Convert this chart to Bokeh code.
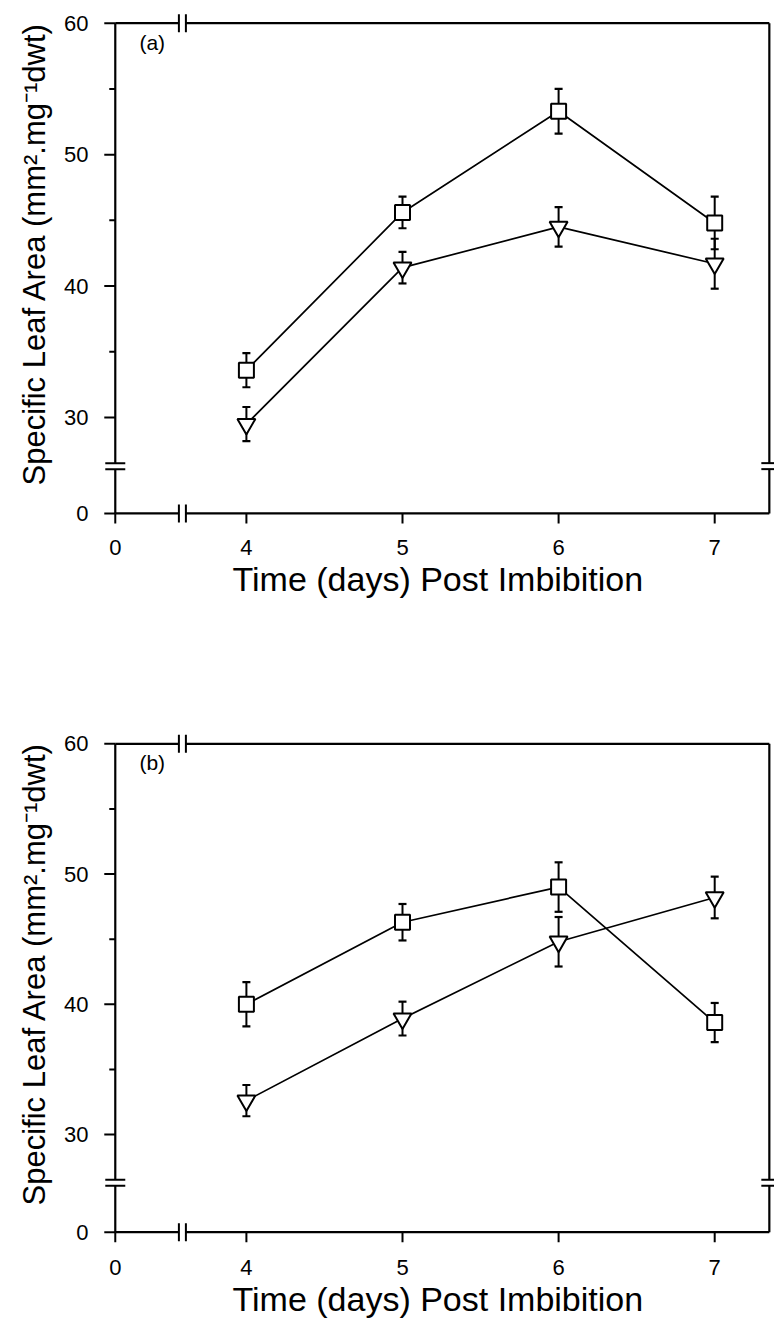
from bokeh.plotting import figure
from bokeh.layouts import column
from bokeh.models import FixedTicker, Label, Title
from bokeh.embed import file_html
from bokeh.resources import INLINE

# ---------------- data ----------------
days = [4, 5, 6, 7]

a_square = [33.6, 45.6, 53.3, 44.8]
a_square_err = [1.3, 1.2, 1.7, 2.0]
a_tri = [29.5, 41.4, 44.5, 41.7]
a_tri_err = [1.3, 1.2, 1.5, 1.9]

b_square = [40.0, 46.3, 49.0, 38.6]
b_square_err = [1.7, 1.4, 1.9, 1.5]
b_tri = [32.6, 38.9, 44.8, 48.2]
b_tri_err = [1.2, 1.3, 1.9, 1.6]

x_major = [4, 5, 6, 7]
y_major = [30, 40, 50, 60]
y_minor = [35, 45, 55]
panel_tags = ["(a)", "(b)"]
x_title = "Time (days) Post Imbibition"
y_title = "Specific Leaf Area (mm\u00b2.mg\u207b\u00b9dwt)"

# ---------------- broken-axis design ----------------
X_ZERO = 3.16     # where the "0" of the time axis sits
X_BREAK = 3.59
X_RIGHT = 7.35
Y_TOP = 60
Y_BREAK = 26.3

FONT = "Liberation Sans"
INK = "black"


def build(sq, sq_err, tr, tr_err, tag, fig_h, y60_px, y30_px, y_zero):
    frame_l, frame_r, frame_t, frame_b = 95, 774, 8, 535
    x4_px, px_day = 245.9, 156.1
    ppu = (y30_px - y60_px) / 30.0

    def xd(px):
        return 4 + (px - x4_px) / px_day

    def yd(px):
        return 30 - (px - y30_px) / ppu

    def sx(px):
        return px / px_day

    def sy(px):
        return px / ppu

    p = figure(width=774, height=fig_h,
               x_range=(xd(frame_l), xd(frame_r)),
               y_range=(yd(frame_b), yd(frame_t)),
               min_border_left=frame_l, min_border_right=0,
               min_border_top=frame_t, min_border_bottom=fig_h - frame_b,
               output_backend="svg", toolbar_location=None)
    p.grid.visible = False
    p.outline_line_color = None
    p.background_fill_color = "white"
    p.border_fill_color = "white"

    # axes: tick labels only, the frame and ticks are drawn below
    p.xaxis.ticker = FixedTicker(ticks=[X_ZERO] + x_major, minor_ticks=[])
    p.xaxis.major_label_overrides = {X_ZERO: "0"}
    p.yaxis.ticker = FixedTicker(ticks=[y_zero] + y_major, minor_ticks=[])
    p.yaxis.major_label_overrides = {y_zero: "0"}
    for ax in (p.xaxis, p.yaxis):
        ax.axis_line_color = None
        ax.major_tick_line_color = None
        ax.minor_tick_line_color = None
        ax.major_tick_out = 0
        ax.major_tick_in = 0
        ax.major_label_text_font = FONT
        ax.major_label_text_font_size = "22px"
        ax.major_label_text_color = INK
    p.xaxis.major_label_standoff = 4
    p.yaxis.major_label_standoff = 7

    hx = sx(7) / 2
    hy = sy(6) / 2
    # frame with gaps at the breaks
    fx0 = [X_ZERO, X_BREAK + hx, X_ZERO, X_BREAK + hx,
           X_ZERO, X_ZERO, X_RIGHT, X_RIGHT]
    fx1 = [X_BREAK - hx, X_RIGHT, X_BREAK - hx, X_RIGHT,
           X_ZERO, X_ZERO, X_RIGHT, X_RIGHT]
    fy0 = [y_zero, y_zero, Y_TOP, Y_TOP,
           y_zero, Y_BREAK + hy, y_zero, Y_BREAK + hy]
    fy1 = [y_zero, y_zero, Y_TOP, Y_TOP,
           Y_BREAK - hy, Y_TOP, Y_BREAK - hy, Y_TOP]
    p.segment(fx0, fy0, fx1, fy1, line_color=INK, line_width=2.2)

    # break marks
    bx0, bx1, by0, by1 = [], [], [], []
    for yy in (y_zero, Y_TOP):
        for xx in (X_BREAK - hx, X_BREAK + hx):
            bx0.append(xx); bx1.append(xx)
            by0.append(yy - sy(9)); by1.append(yy + sy(9))
    for xx, half in ((X_ZERO, 10), (X_RIGHT, 8)):
        for yy in (Y_BREAK - hy, Y_BREAK + hy):
            bx0.append(xx - sx(half)); bx1.append(xx + sx(half))
            by0.append(yy); by1.append(yy)
    p.segment(bx0, by0, bx1, by1, line_color=INK, line_width=2)

    # ticks
    yt = [y_zero] + y_major
    p.segment([X_ZERO - sx(11)] * len(yt), yt, [X_ZERO] * len(yt), yt,
              line_color=INK, line_width=2)
    p.segment([X_ZERO - sx(6)] * len(y_minor), y_minor, [X_ZERO] * len(y_minor), y_minor,
              line_color=INK, line_width=2)
    xt = [X_ZERO] + x_major
    p.segment(xt, [y_zero - sy(10)] * len(xt), xt, [y_zero] * len(xt),
              line_color=INK, line_width=2)

    # series
    cap = sx(4)
    for vals, errs in ((sq, sq_err), (tr, tr_err)):
        p.line(days, vals, line_color=INK, line_width=1.7)
        lo = [v - e for v, e in zip(vals, errs)]
        hi = [v + e for v, e in zip(vals, errs)]
        p.segment(days, lo, days, hi, line_color=INK, line_width=2)
        p.segment([d - cap for d in days], lo, [d + cap for d in days], lo,
                  line_color=INK, line_width=2.2)
        p.segment([d - cap for d in days], hi, [d + cap for d in days], hi,
                  line_color=INK, line_width=2.2)
    p.scatter(days, sq, marker="square", size=15, fill_color="white",
              line_color=INK, line_width=2)
    p.scatter(days, tr, marker="inverted_triangle", size=18, fill_color="white",
              line_color=INK, line_width=2)

    p.add_layout(Label(x=X_ZERO, y=Y_TOP, x_offset=37, y_offset=-19, text=tag,
                       text_font=FONT, text_font_size="21px", text_color=INK,
                       text_align="center", text_baseline="middle"))

    p.add_layout(Title(text=y_title, align="left", offset=50, standoff=19,
                       text_font=FONT, text_font_size="31px",
                       text_font_style="normal", text_color=INK), "left")
    p.add_layout(Title(text=x_title, align="left", offset=137, standoff=0,
                       text_font=FONT, text_font_size="34px",
                       text_font_style="normal", text_color=INK), "below")
    return p


p1 = build(a_square, a_square_err, a_tri, a_tri_err, panel_tags[0], 720, 22.7, 417.0, 22.7)
p2 = build(b_square, b_square_err, b_tri, b_tri_err, panel_tags[1], 619, 23.3, 414.0, 22.5)

layout = column(p1, p2, spacing=0)
open("out.html", "w").write(file_html(layout, INLINE))
